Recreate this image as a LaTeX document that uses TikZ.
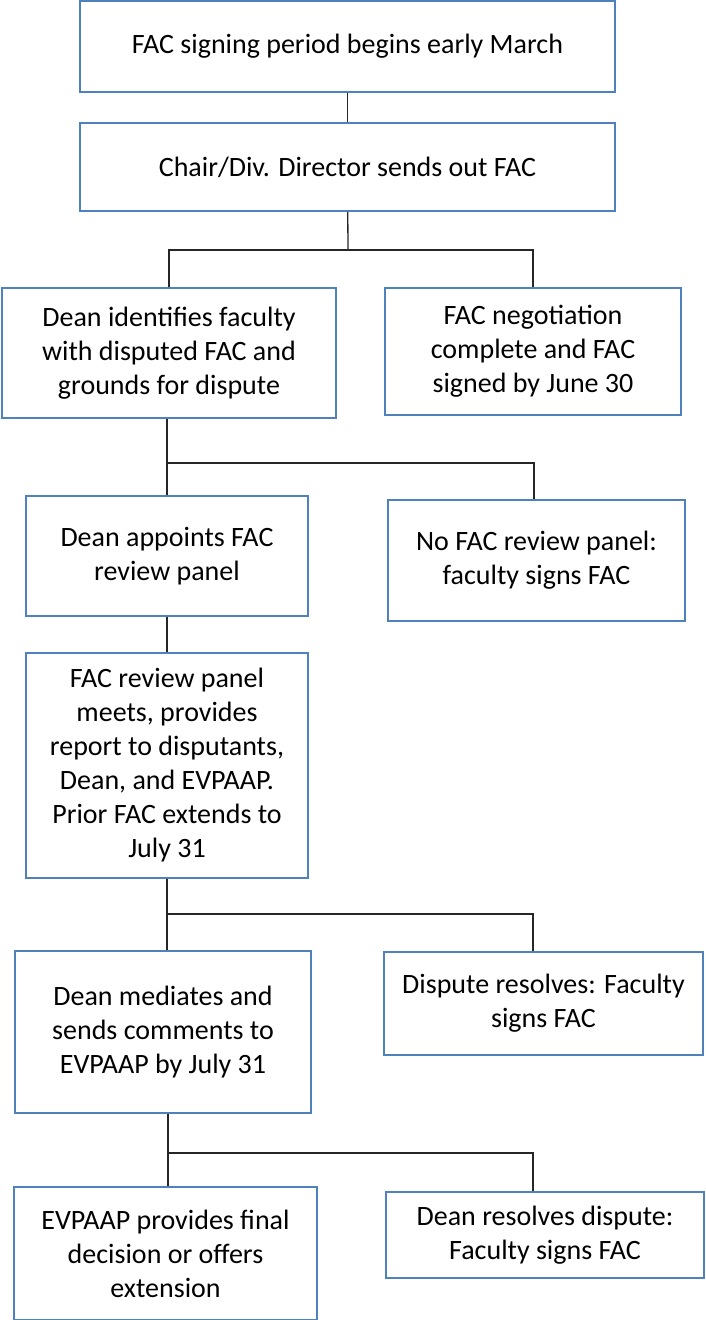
\documentclass[tikz,border=0pt]{standalone}
\usepackage{fontspec}
\setmainfont{Carlito}
\usepackage{xcolor}
\definecolor{boxc}{HTML}{4F81BD}
\definecolor{linkc}{HTML}{262626}

\begin{document}
\begin{tikzpicture}[x=1pt, y=-1pt, font=\fontsize{28}{34}\selectfont,
  stepbox/.style={draw=boxc, line width=1.5pt, align=center, inner sep=0pt},
  link/.style={draw=linkc, line width=1.3pt}]
  \useasboundingbox (0,0) rectangle (706,1320);
  % top of the chain
  \node[stepbox, minimum width=535, minimum height=91] (start) at (347.5,46.5) {FAC signing period begins early March};
  \node[stepbox, minimum width=535, minimum height=88] (chair) at (347.5,167) {Chair/Div. Director sends out FAC};
  % first split
  \node[stepbox, minimum width=334, minimum height=130] (ident) at (169,353) {Dean identifies faculty\\with disputed FAC and\\grounds for dispute};
  \node[stepbox, minimum width=296, minimum height=127] (signed) at (533,351.5) {FAC negotiation\\complete and FAC\\signed by June 30};
  % second split
  \node[stepbox, minimum width=282, minimum height=120] (appoint) at (167,556) {Dean appoints FAC\\review panel};
  \node[stepbox, minimum width=297, minimum height=121] (nopanel) at (536.5,560.5) {No FAC review panel:\\faculty signs FAC};
  \node[stepbox, minimum width=282, minimum height=225] (panel) at (167,765.5) {FAC review panel\\meets, provides\\report to disputants,\\Dean, and EVPAAP.\\Prior FAC extends to\\July 31};
  % third split
  \node[stepbox, minimum width=296, minimum height=162] (mediate) at (163,1032) {Dean mediates and\\sends comments to\\EVPAAP by July 31};
  \node[stepbox, minimum width=319, minimum height=103] (resolves) at (543.5,1003.5) {Dispute resolves: Faculty\\signs FAC};
  % last split
  \node[stepbox, minimum width=303, minimum height=133] (final) at (165.5,1253.5) {EVPAAP provides final\\decision or offers\\extension};
  \node[stepbox, minimum width=318, minimum height=86] (deanres) at (545,1235) {Dean resolves dispute:\\Faculty signs FAC};
  % connectors
  \coordinate (j1) at (348,250);
  \coordinate (j2) at (167,463);
  \coordinate (r2) at (534,463);
  \coordinate (j3) at (167,914);
  \coordinate (r3) at (533,914);
  \coordinate (j4) at (168,1153);
  \coordinate (r4) at (533,1153);
  \draw[link] (start) -- (chair);
  \draw[link] (chair) -- (j1);
  \draw[link] (ident.north) |- (j1) -| (signed.north);
  \draw[link] (ident.south -| j2) -- (appoint.north -| j2);
  \draw[link] (j2) -- (r2) -- (r2 |- nopanel.north);
  \draw[link] (appoint) -- (panel);
  \draw[link] (panel.south -| j3) -- (mediate.north -| j3);
  \draw[link] (j3) -- (r3) -- (r3 |- resolves.north);
  \draw[link] (mediate.south -| j4) -- (final.north -| j4);
  \draw[link] (j4) -- (r4) -- (r4 |- deanres.north);
\end{tikzpicture}
\end{document}
